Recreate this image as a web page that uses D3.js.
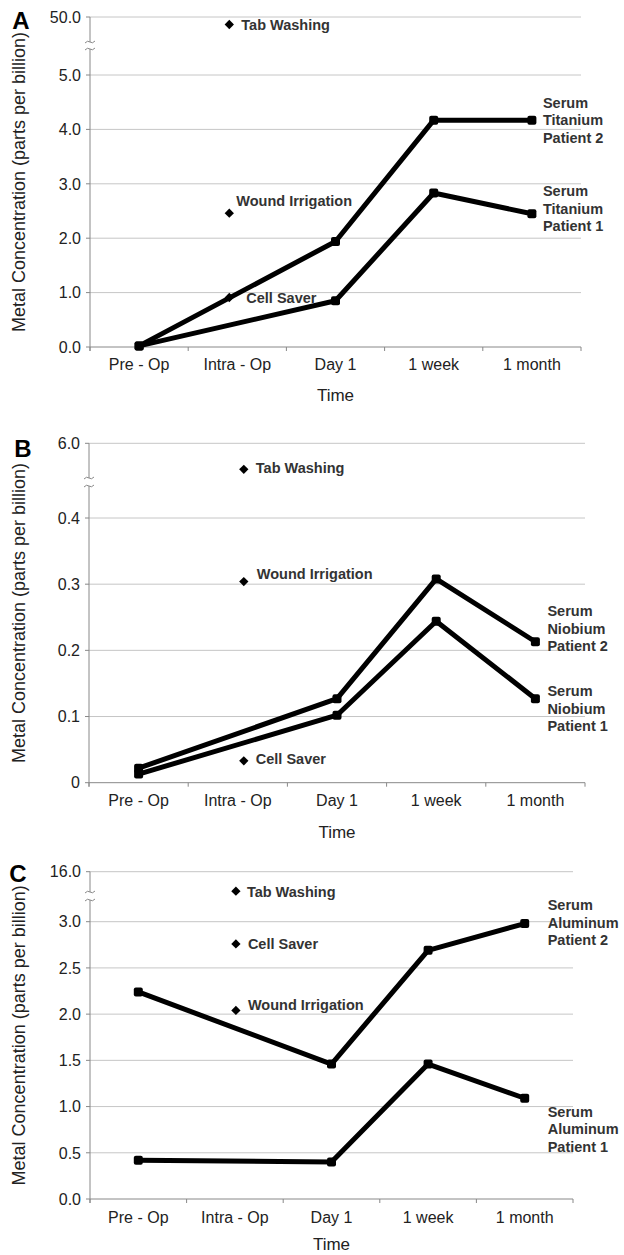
<!DOCTYPE html>
<html><head><meta charset="utf-8">
<script src="https://cdn.jsdelivr.net/npm/d3@7"></script>
<style>body{margin:0;background:#fff}svg{display:block}</style>
</head><body>
<script>
// ---------- DATA ----------
const categories = ["Pre - Op", "Intra - Op", "Day 1", "1 week", "1 month"];
const sourceNames = ["Tab Washing", "Wound Irrigation", "Cell Saver"];

const titaniumPatient1 = [0.02, null, 0.85, 2.83, 2.45];
const titaniumPatient2 = [0.02, null, 1.94, 4.17, 4.17];
const titaniumSources  = [44, 2.46, 0.91];
const titaniumTicks    = [0, 1, 2, 3, 4, 5, 50];
const titaniumTickLabels = ["0.0", "1.0", "2.0", "3.0", "4.0", "5.0", "50.0"];

const niobiumPatient1 = [0.013, null, 0.102, 0.244, 0.127];
const niobiumPatient2 = [0.022, null, 0.127, 0.308, 0.213];
const niobiumSources  = [3.0, 0.304, 0.033];
const niobiumTicks    = [0, 0.1, 0.2, 0.3, 0.4, 6];
const niobiumTickLabels = ["0", "0.1", "0.2", "0.3", "0.4", "6.0"];

const aluminumPatient1 = [0.42, null, 0.40, 1.46, 1.09];
const aluminumPatient2 = [2.24, null, 1.46, 2.69, 2.98];
const aluminumSources  = [4.5, 2.04, 2.76];
const aluminumTicks    = [0, 0.5, 1, 1.5, 2, 2.5, 3, 16];
const aluminumTickLabels = ["0.0", "0.5", "1.0", "1.5", "2.0", "2.5", "3.0", "16.0"];

// ---------- LAYOUT ----------
const FONT = "'Liberation Sans', Arial, Helvetica, sans-serif";
const panels = [
  { letter: "A", metal: "Titanium", p1: titaniumPatient1, p2: titaniumPatient2,
    sources: titaniumSources, ticks: titaniumTicks, tickLabels: titaniumTickLabels,
    left: 90, right: 581,
    yDomain: [0, 5, 5.48, 30, 50], yRange: [347, 75, 49, 42, 17],
    diamondDx: -8,
    srcLabel: [[12, 0], [7, -12], [17, 0]],
    p1Label: { dx: 11, dy: -5 }, p2Label: { dx: 11, dy: 0 },
    letterPos: [21, 29], titleX: 19, xLabelY: 370, timeY: 401 },
  { letter: "B", metal: "Niobium", p1: niobiumPatient1, p2: niobiumPatient2,
    sources: niobiumSources, ticks: niobiumTicks, tickLabels: niobiumTickLabels,
    left: 89, right: 585,
    yDomain: [0, 0.4, 0.448, 2, 6], yRange: [782.7, 518, 486, 478, 443.3],
    diamondDx: 6,
    srcLabel: [[12, -1], [13, -8], [12, -2]],
    p1Label: { dx: 12, dy: 10 }, p2Label: { dx: 12, dy: -13 },
    letterPos: [23, 457], titleX: 19, xLabelY: 806, timeY: 838 },
  { letter: "C", metal: "Aluminum", p1: aluminumPatient1, p2: aluminumPatient2,
    sources: aluminumSources, ticks: aluminumTicks, tickLabels: aluminumTickLabels,
    left: 90, right: 573,
    yDomain: [0, 3, 3.23, 4, 16], yRange: [1199, 921.7, 900, 892, 871.7],
    diamondDx: 1,
    srcLabel: [[11, 1], [12, -6], [12, 0]],
    p1Label: { dx: 23, dy: 31 }, p2Label: { dx: 23, dy: -1 },
    letterPos: [18, 882], titleX: 19, xLabelY: 1223, timeY: 1250 }
];

const svg = d3.select("body").append("svg")
  .attr("width", 624).attr("height", 1255)
  .style("font-family", FONT);

panels.forEach(P => {
  const g = svg.append("g");
  const x = d3.scaleBand().domain(categories).range([P.left, P.right]);
  const cx = c => x(c) + x.bandwidth() / 2;
  const y = d3.scaleLinear().domain(P.yDomain).range(P.yRange);
  const bottom = P.yRange[0], top = P.yRange[P.yRange.length - 1];

  // gridlines
  g.selectAll("line.grid").data(P.ticks.filter(t => t !== 0)).join("line")
    .attr("x1", P.left).attr("x2", P.right)
    .attr("y1", d => y(d)).attr("y2", d => y(d))
    .attr("stroke", "#c6c6c6").attr("stroke-width", 1);

  // y axis ticks & labels
  g.selectAll("line.ytick").data(P.ticks).join("line")
    .attr("x1", P.left - 4).attr("x2", P.left)
    .attr("y1", d => y(d)).attr("y2", d => y(d))
    .attr("stroke", "#888");
  g.selectAll("text.ytl").data(P.ticks).join("text")
    .attr("x", P.left - 9).attr("y", d => y(d)).attr("dy", "0.36em")
    .attr("text-anchor", "end").attr("font-size", 16).attr("fill", "#222")
    .text((d, i) => P.tickLabels[i]);

  // y axis line with break
  const bLo = P.yRange[2], bHi = P.yRange[3];
  g.append("line").attr("x1", P.left).attr("x2", P.left)
    .attr("y1", bottom + 4).attr("y2", bLo).attr("stroke", "#888");
  g.append("line").attr("x1", P.left).attr("x2", P.left)
    .attr("y1", bHi).attr("y2", top).attr("stroke", "#888");
  [bLo, bHi].forEach(by => {
    g.append("path")
      .attr("d", `M${P.left - 5},${by + 1} q2.5,-3 5,-1 t5,-1`)
      .attr("fill", "none").attr("stroke", "#888").attr("stroke-width", 1);
  });

  // x axis
  g.append("line").attr("x1", P.left).attr("x2", P.right)
    .attr("y1", bottom).attr("y2", bottom).attr("stroke", "#888");
  const bounds = categories.map(c => x(c)).concat([P.right]);
  g.selectAll("line.xtick").data(bounds).join("line")
    .attr("x1", d => d).attr("x2", d => d)
    .attr("y1", bottom).attr("y2", bottom + 4).attr("stroke", "#888");
  g.selectAll("text.xtl").data(categories).join("text")
    .attr("x", d => cx(d)).attr("y", P.xLabelY)
    .attr("text-anchor", "middle").attr("font-size", 16).attr("fill", "#222")
    .text(d => d);
  g.append("text").attr("x", (P.left + P.right) / 2).attr("y", P.timeY)
    .attr("text-anchor", "middle").attr("font-size", 17).attr("fill", "#222")
    .text("Time");

  // y title
  g.append("text")
    .attr("transform", `translate(${P.titleX},${(top + bottom) / 2}) rotate(-90)`)
    .attr("text-anchor", "middle").attr("dy", "0.35em")
    .attr("font-size", 18).attr("fill", "#222")
    .text("Metal Concentration (parts per billion)");

  // panel letter
  g.append("text").attr("x", P.letterPos[0]).attr("y", P.letterPos[1])
    .attr("text-anchor", "middle").attr("font-size", 24).attr("font-weight", "bold")
    .attr("fill", "#000").text(P.letter);

  // patient lines
  const line = d3.line().x(d => cx(d.c)).y(d => y(d.v));
  [P.p1, P.p2].forEach((series, si) => {
    const pts = categories.map((c, i) => ({ c, v: series[i] })).filter(d => d.v !== null);
    g.append("path").datum(pts).attr("d", line)
      .attr("fill", "none").attr("stroke", "#000").attr("stroke-width", 5)
      .attr("stroke-linejoin", "round");
    g.selectAll(null).data(pts).join("rect")
      .attr("x", d => cx(d.c) - 4.5).attr("y", d => y(d.v) - 4.5)
      .attr("width", 9).attr("height", 9).attr("rx", 2)
      .attr("fill", "#000");
    const lab = si === 0 ? P.p1Label : P.p2Label;
    const last = pts[pts.length - 1];
    const t = g.append("text")
      .attr("font-size", 14.5).attr("font-weight", "bold").attr("fill", "#333");
    ["Serum", P.metal, "Patient " + (si + 1)].forEach((s, k) => {
      t.append("tspan").attr("x", cx(last.c) + lab.dx)
        .attr("y", y(last.v) + lab.dy + (k - 1) * 17.5).attr("dy", "0.35em").text(s);
    });
  });

  // source diamonds
  const sx = cx(categories[1]) + P.diamondDx;
  g.selectAll(null).data(P.sources).join("path")
    .attr("d", d3.symbol().type(d3.symbolDiamond2).size(55))
    .attr("transform", d => `translate(${sx},${y(d)})`)
    .attr("fill", "#000");
  g.selectAll(null).data(P.sources).join("text")
    .attr("x", (d, i) => sx + P.srcLabel[i][0])
    .attr("y", (d, i) => y(d) + P.srcLabel[i][1]).attr("dy", "0.35em")
    .attr("font-size", 14.5).attr("font-weight", "bold").attr("fill", "#333")
    .text((d, i) => sourceNames[i]);
});
</script>
</body></html>
